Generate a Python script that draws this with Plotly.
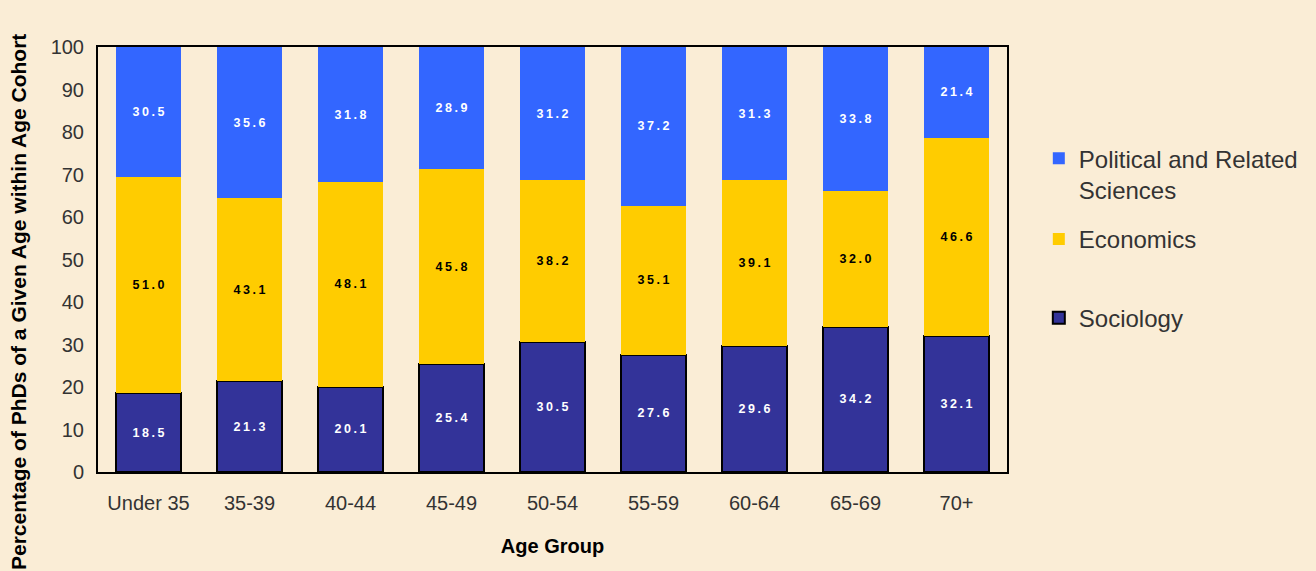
import plotly.graph_objects as go

categories = ["Under 35", "35-39", "40-44", "45-49", "50-54", "55-59", "60-64", "65-69", "70+"]
sociology = [18.5, 21.3, 20.1, 25.4, 30.5, 27.6, 29.6, 34.2, 32.1]
economics = [51.0, 43.1, 48.1, 45.8, 38.2, 35.1, 39.1, 32.0, 46.6]
political = [30.5, 35.6, 31.8, 28.9, 31.2, 37.2, 31.3, 33.8, 21.4]
y_ticks = [0, 10, 20, 30, 40, 50, 60, 70, 80, 90, 100]

BG = "#FAEDD6"
FONT = "Liberation Sans, Arial, sans-serif"


def spaced(vals):
    return ["\u2009".join(f"{v:.1f}") for v in vals]


fig = go.Figure()
fig.add_trace(go.Bar(
    x=categories, y=sociology, name="Sociology",
    marker=dict(color="#333399", line=dict(color="black", width=2)),
    text=spaced(sociology), textposition="inside", insidetextanchor="middle",
    textfont=dict(color="white", size=12.5, family=FONT, weight="bold"),
    textangle=0, legend="legend3", showlegend=True,
))
fig.add_trace(go.Bar(
    x=categories, y=economics, name="Economics",
    marker=dict(color="#FFCC00", line=dict(width=0)),
    text=spaced(economics), textposition="inside", insidetextanchor="middle",
    textfont=dict(color="black", size=12.5, family=FONT, weight="bold"),
    textangle=0, legend="legend2", showlegend=True,
))
fig.add_trace(go.Bar(
    x=categories, y=political, name="Political and Related<br>Sciences",
    marker=dict(color="#3366FF", line=dict(width=0)),
    text=spaced(political), textposition="inside", insidetextanchor="middle",
    textfont=dict(color="white", size=12.5, family=FONT, weight="bold"),
    textangle=0, legend="legend", showlegend=True,
))

leg_common = dict(x=1.035, xanchor="left", yanchor="top", bgcolor="rgba(0,0,0,0)",
                  font=dict(size=24, color="#333333", family=FONT), valign="top")

fig.update_layout(
    barmode="stack",
    bargap=0.35,
    width=1316, height=571,
    margin=dict(l=98, r=309, t=47, b=99),
    paper_bgcolor=BG,
    plot_bgcolor="rgba(0,0,0,0)",
    showlegend=True,
    legend=dict(y=0.79, **leg_common),
    legend2=dict(y=0.60, **leg_common),
    legend3=dict(y=0.415, **leg_common),
    xaxis=dict(
        showline=True, linecolor="black", linewidth=2, mirror=True,
        tickfont=dict(size=20, color="#333333", family=FONT),
        ticklabelstandoff=12,
        title=dict(text="Age Group", font=dict(size=20, color="black", family=FONT, weight="bold"), standoff=26),
        ticks="",
    ),
    yaxis=dict(
        range=[0, 100], tickvals=y_ticks,
        showline=True, linecolor="black", linewidth=2, mirror=True,
        showgrid=False, zeroline=False, ticks="",
        ticklabelstandoff=8,
        tickfont=dict(size=20, color="#333333", family=FONT),
    ),
    annotations=[dict(
        text="Percentage of PhDs of a Given Age within Age Cohort",
        xref="paper", yref="paper", x=-0.088, y=0.40, xanchor="center", yanchor="middle",
        textangle=-90, showarrow=False,
        font=dict(size=21, color="black", family=FONT, weight="bold"),
    )],
)

fig.write_html(
    "out.html",
    config={"displayModeBar": False},
    post_script="document.body.style.margin='0';document.body.style.background='" + BG + "';",
)
